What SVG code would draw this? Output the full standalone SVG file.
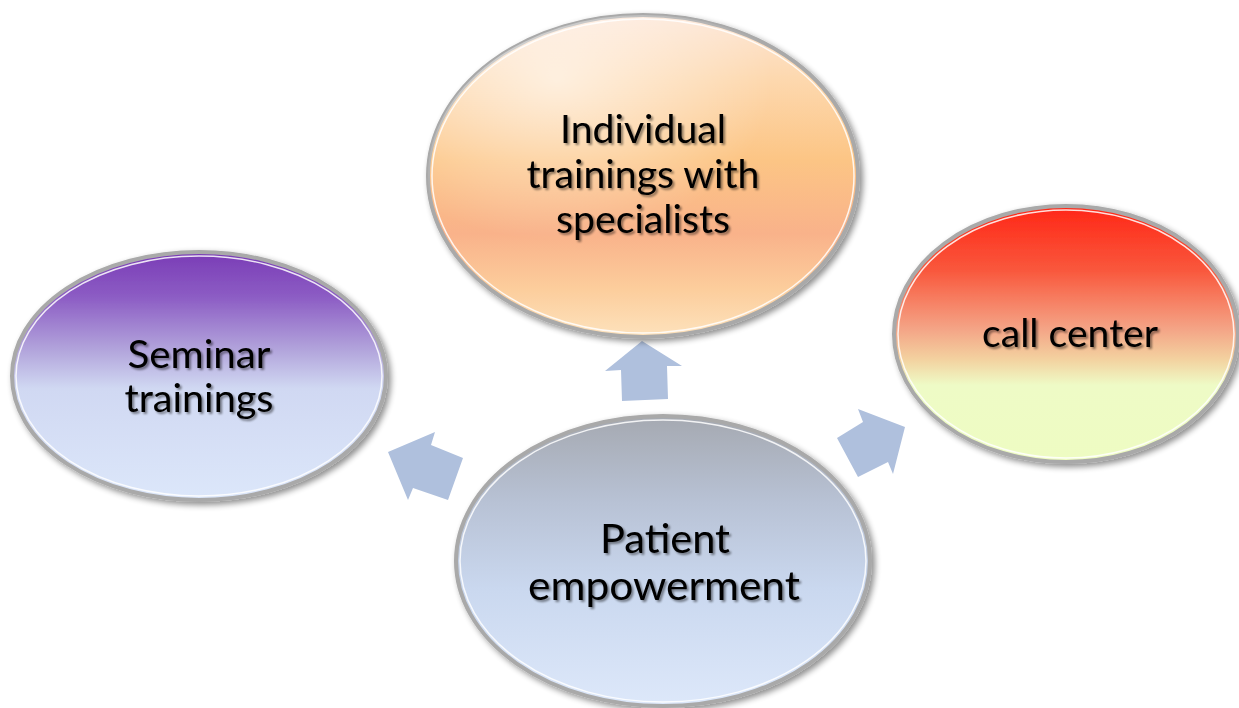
<svg xmlns="http://www.w3.org/2000/svg" width="1239" height="708" viewBox="0 0 1239 708">
  <defs>
    <linearGradient id="gTop" x1="0" y1="0" x2="0" y2="1">
      <stop offset="0" stop-color="#fde6d6"/>
      <stop offset="0.2" stop-color="#fdd8ae"/>
      <stop offset="0.45" stop-color="#fcc585"/>
      <stop offset="0.68" stop-color="#f9b28a"/>
      <stop offset="0.85" stop-color="#fccd9c"/>
      <stop offset="1" stop-color="#fde2bc"/>
    </linearGradient>
    <linearGradient id="gLeft" x1="0" y1="0" x2="0" y2="1">
      <stop offset="0" stop-color="#7a3cb6"/>
      <stop offset="0.18" stop-color="#8c5cc4"/>
      <stop offset="0.4" stop-color="#b3a6dc"/>
      <stop offset="0.55" stop-color="#d0d8f2"/>
      <stop offset="1" stop-color="#dce7fa"/>
    </linearGradient>
    <linearGradient id="gRight" x1="0" y1="0" x2="0" y2="1">
      <stop offset="0" stop-color="#ff2616"/>
      <stop offset="0.25" stop-color="#f9573c"/>
      <stop offset="0.48" stop-color="#f4a486"/>
      <stop offset="0.6" stop-color="#f3d2a0"/>
      <stop offset="0.7" stop-color="#eefbc6"/>
      <stop offset="1" stop-color="#eefcc2"/>
    </linearGradient>
    <linearGradient id="gCenter" x1="0" y1="0" x2="0" y2="1">
      <stop offset="0" stop-color="#a5a9b1"/>
      <stop offset="0.3" stop-color="#b8c2d5"/>
      <stop offset="0.6" stop-color="#cad8ef"/>
      <stop offset="1" stop-color="#dde8fa"/>
    </linearGradient>
    <radialGradient id="gloss" cx="0.3" cy="0.2" r="0.5">
      <stop offset="0" stop-color="#ffffff" stop-opacity="0.6"/>
      <stop offset="1" stop-color="#ffffff" stop-opacity="0"/>
    </radialGradient>
    <filter id="shadow" x="-10%" y="-10%" width="120%" height="125%">
      <feGaussianBlur in="SourceAlpha" stdDeviation="3"/>
      <feOffset dx="3" dy="3" result="b"/>
      <feComponentTransfer><feFuncA type="linear" slope="0.45"/></feComponentTransfer>
      <feMerge><feMergeNode/><feMergeNode in="SourceGraphic"/></feMerge>
    </filter>
    <filter id="tshadow" x="-10%" y="-20%" width="120%" height="150%">
      <feGaussianBlur in="SourceAlpha" stdDeviation="1.3"/>
      <feOffset dx="2" dy="2"/>
      <feComponentTransfer><feFuncA type="linear" slope="0.45"/></feComponentTransfer>
      <feMerge><feMergeNode/><feMergeNode in="SourceGraphic"/></feMerge>
    </filter>
  </defs>
  <style>
    .rim { stroke: #a9a9a9; stroke-width: 4; }
    .inner { fill: none; stroke: #ffffff; stroke-width: 1.5; stroke-opacity: 0.85; }
    .lbl { font-family: Lato, "Open Sans", "Liberation Sans", sans-serif; font-size: 38px; fill: #000; text-anchor: middle; filter: url(#tshadow); }
    .big { font-size: 40px; }
    .arrow { fill: #afc0dd; }
  </style>
  <rect width="1239" height="708" fill="#ffffff"/>

  <g id="connectors">
    <polygon class="arrow" points="642,341 682,366 667,366 668,399 622,401 621,370 605,371"/>
    <polygon class="arrow" points="388,452 435,432 431,445 463,458 448,500 413,488 408,500"/>
    <polygon class="arrow" points="837,438 863,422 858,409 905,427 893,474 888,462 858,477"/>
  </g>

  <g id="node-individual">
    <ellipse cx="643" cy="176" rx="215" ry="161" fill="url(#gTop)" class="rim" filter="url(#shadow)"/>
    <ellipse cx="643" cy="176" rx="215" ry="161" fill="url(#gloss)"/>
    <ellipse cx="643" cy="176" rx="211" ry="157" class="inner"/>
    <text class="lbl" x="643" y="143" textLength="166" lengthAdjust="spacingAndGlyphs">Individual</text>
    <text class="lbl" x="643" y="188" textLength="233" lengthAdjust="spacingAndGlyphs">trainings with</text>
    <text class="lbl" x="643" y="233" textLength="174" lengthAdjust="spacingAndGlyphs">specialists</text>
  </g>

  <g id="node-seminar">
    <ellipse cx="199" cy="376" rx="187" ry="124" fill="url(#gLeft)" class="rim" filter="url(#shadow)"/>
    <ellipse cx="199" cy="376" rx="183" ry="120" class="inner"/>
    <text class="lbl" x="199" y="368" textLength="143" lengthAdjust="spacingAndGlyphs">Seminar</text>
    <text class="lbl" x="199" y="412" textLength="149" lengthAdjust="spacingAndGlyphs">trainings</text>
  </g>

  <g id="node-callcenter">
    <ellipse cx="1066" cy="334" rx="172" ry="128" fill="url(#gRight)" class="rim" filter="url(#shadow)"/>
    <ellipse cx="1066" cy="334" rx="168" ry="124" class="inner"/>
    <text class="lbl" x="1070" y="347" textLength="176" lengthAdjust="spacingAndGlyphs">call center</text>
  </g>

  <g id="node-patient">
    <ellipse cx="663" cy="561" rx="207" ry="145" fill="url(#gCenter)" class="rim" filter="url(#shadow)"/>
    <ellipse cx="663" cy="561" rx="203" ry="141" class="inner"/>
    <text class="lbl big" x="665" y="553" textLength="130" lengthAdjust="spacingAndGlyphs">Patient</text>
    <text class="lbl big" x="664" y="600" textLength="272" lengthAdjust="spacingAndGlyphs">empowerment</text>
  </g>
</svg>
